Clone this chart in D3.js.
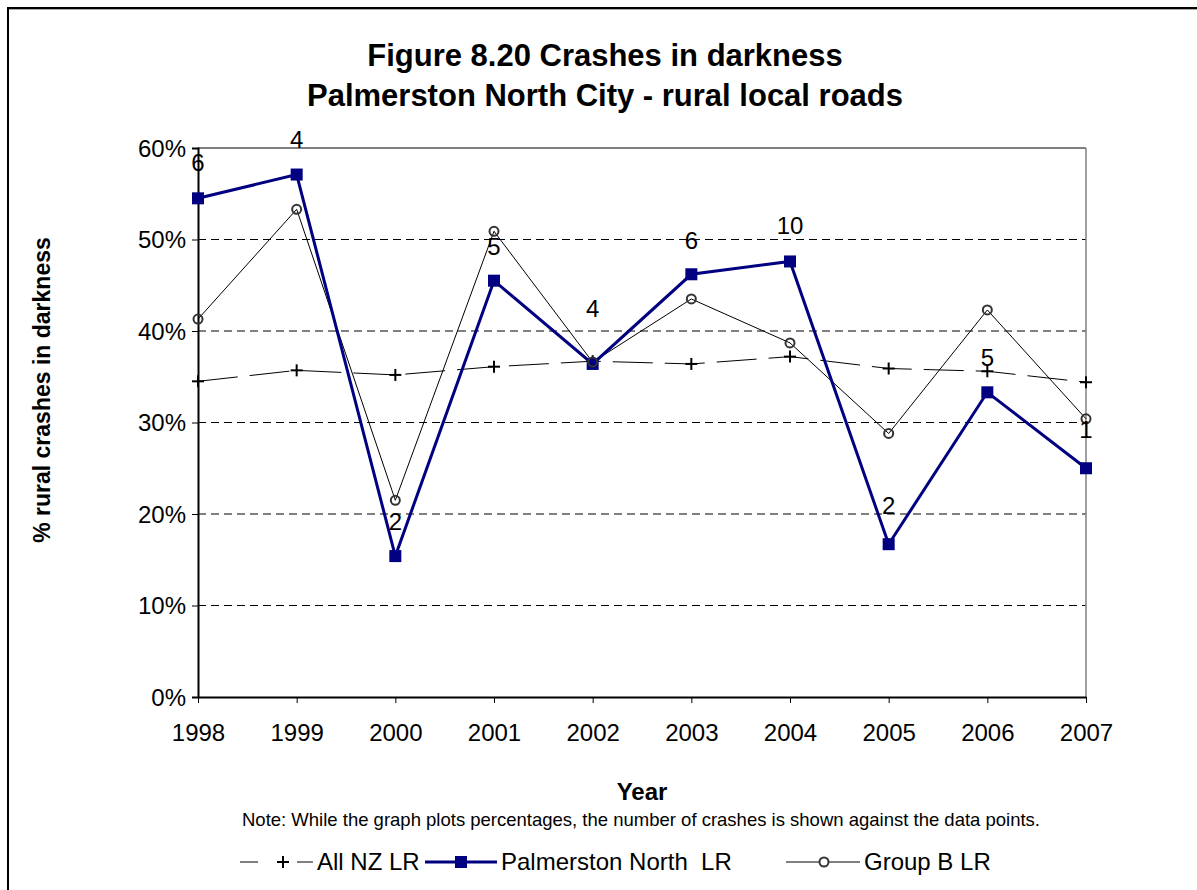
<!DOCTYPE html>
<html>
<head>
<meta charset="utf-8">
<script src="https://cdn.jsdelivr.net/npm/d3@7/dist/d3.min.js"></script>
<style>
  html, body { margin: 0; padding: 0; background: #fff; }
  svg { display: block; font-family: Arial, "Liberation Sans", sans-serif; }
</style>
</head>
<body>
<svg id="chart" width="1197" height="890"></svg>
<script>
// ---- data ----
const years = [1998, 1999, 2000, 2001, 2002, 2003, 2004, 2005, 2006, 2007];
const allNZ = [0.345, 0.357, 0.352, 0.361, 0.367, 0.364, 0.372, 0.359, 0.356, 0.344];
const palmerston = [0.545, 0.571, 0.154, 0.455, 0.364, 0.462, 0.476, 0.167, 0.333, 0.25];
const groupB = [0.413, 0.533, 0.215, 0.509, 0.366, 0.435, 0.387, 0.288, 0.423, 0.304];
const crashCounts = ["6", "4", "2", "5", "4", "6", "10", "2", "5", "1"];
const countLabelPct = [0.584, 0.609, 0.192, 0.492, 0.424, 0.499, 0.515, 0.209, 0.371, 0.292];
const yTicks = [0, 0.1, 0.2, 0.3, 0.4, 0.5, 0.6];
const titleLines = ["Figure 8.20 Crashes in darkness", "Palmerston North City - rural local roads"];
const seriesNames = ["All NZ LR", "Palmerston North  LR", "Group B LR"];

// ---- layout ----
const FONT = "Arial, 'Liberation Sans', sans-serif";
const svg = d3.select("#chart");
const L = 198, R = 1086, T = 148, B = 697;
const x = d3.scalePoint().domain(years).range([L, R]);
const y = d3.scaleLinear().domain([0, 0.6]).range([B, T]);

// outer frame
svg.append("line").attr("x1", 8).attr("y1", 8).attr("x2", 1197).attr("y2", 8)
  .attr("stroke", "#000").attr("stroke-width", 2);
svg.append("line").attr("x1", 9).attr("y1", 9.5).attr("x2", 1197).attr("y2", 9.5)
  .attr("stroke", "#aaa").attr("stroke-width", 1);
svg.append("line").attr("x1", 8).attr("y1", 7).attr("x2", 8).attr("y2", 890)
  .attr("stroke", "#000").attr("stroke-width", 2);

// title
svg.append("g").selectAll("text").data(titleLines).join("text")
  .attr("x", 605).attr("y", (d, i) => 66 + i * 40)
  .attr("text-anchor", "middle").attr("font-size", 31).attr("font-weight", "bold")
  .text(d => d);

// gridlines
svg.append("g").selectAll("line").data(yTicks.filter(t => t > 0 && t < 0.6)).join("line")
  .attr("x1", L).attr("x2", R).attr("y1", d => y(d)).attr("y2", d => y(d))
  .attr("stroke", "#000").attr("stroke-width", 1).attr("stroke-dasharray", "8,5");

// plot border top & right
svg.append("line").attr("x1", L).attr("x2", R).attr("y1", y(0.6)).attr("y2", y(0.6))
  .attr("stroke", "#000").attr("stroke-width", 1);
svg.append("line").attr("x1", R).attr("x2", R).attr("y1", T).attr("y2", B)
  .attr("stroke", "#808080").attr("stroke-width", 1.5);

// axes
const yAxis = svg.append("g").attr("transform", `translate(${L},0)`)
  .call(d3.axisLeft(y).tickValues(yTicks).tickFormat(d3.format(".0%")).tickSize(6).tickPadding(6));
yAxis.select(".domain").attr("stroke-width", 2);
yAxis.selectAll("text").attr("font-size", 24).attr("fill", "#000").attr("font-family", FONT).attr("dy", "0.35em");

const xAxis = svg.append("g").attr("transform", `translate(0,${B})`)
  .call(d3.axisBottom(x).tickSize(6).tickPadding(21).tickSizeOuter(0));
xAxis.select(".domain").attr("stroke-width", 2);
xAxis.selectAll("text").attr("font-size", 24).attr("fill", "#000").attr("font-family", FONT);

// axis titles
svg.append("text").attr("transform", "translate(50,390) rotate(-90)")
  .attr("text-anchor", "middle").attr("font-size", 23).attr("font-weight", "bold")
  .text("% rural crashes in darkness");
svg.append("text").attr("x", 642).attr("y", 800).attr("text-anchor", "middle")
  .attr("font-size", 24).attr("font-weight", "bold").text("Year");
svg.append("text").attr("x", 641).attr("y", 826).attr("text-anchor", "middle")
  .attr("font-size", 18.5).text("Note: While the graph plots percentages, the number of crashes is shown against the data points.");

// lines
const line = vals => d3.line().x((d, i) => x(years[i])).y(d => y(d))(vals);

svg.append("path").attr("d", line(allNZ)).attr("fill", "none")
  .attr("stroke", "#000").attr("stroke-width", 1).attr("stroke-dasharray", "40,12");
svg.append("path").attr("d", line(groupB)).attr("fill", "none")
  .attr("stroke", "#000").attr("stroke-width", 1);
svg.append("path").attr("d", line(palmerston)).attr("fill", "none")
  .attr("stroke", "#000080").attr("stroke-width", 3);

// markers
const plus = (g, cx, cy) => {
  g.append("line").attr("x1", cx - 6).attr("x2", cx + 6).attr("y1", cy).attr("y2", cy).attr("stroke", "#000").attr("stroke-width", 2);
  g.append("line").attr("x1", cx).attr("x2", cx).attr("y1", cy - 6).attr("y2", cy + 6).attr("stroke", "#000").attr("stroke-width", 2);
};
const gPlus = svg.append("g");
allNZ.forEach((v, i) => plus(gPlus, x(years[i]), y(v)));

svg.append("g").selectAll("rect").data(palmerston).join("rect")
  .attr("x", (d, i) => x(years[i]) - 6).attr("y", d => y(d) - 6)
  .attr("width", 12).attr("height", 12).attr("fill", "#000080");

svg.append("g").selectAll("circle").data(groupB).join("circle")
  .attr("cx", (d, i) => x(years[i])).attr("cy", d => y(d)).attr("r", 4.5)
  .attr("fill", "none").attr("stroke", "#333").attr("stroke-width", 2);

// count labels
svg.append("g").selectAll("text").data(crashCounts).join("text")
  .attr("x", (d, i) => x(years[i])).attr("y", (d, i) => y(countLabelPct[i]))
  .attr("dy", "0.35em").attr("text-anchor", "middle").attr("font-size", 24)
  .text(d => d);

// legend
const ly = 862;
const lg = svg.append("g");
lg.append("line").attr("x1", 240).attr("x2", 258).attr("y1", ly).attr("y2", ly).attr("stroke", "#000");
plus(lg, 283, ly);
lg.append("line").attr("x1", 297).attr("x2", 313).attr("y1", ly).attr("y2", ly).attr("stroke", "#000");
lg.append("text").attr("x", 317).attr("y", ly).attr("dy", "0.35em").attr("font-size", 24).text(seriesNames[0]);

lg.append("line").attr("x1", 425).attr("x2", 497).attr("y1", ly).attr("y2", ly)
  .attr("stroke", "#000080").attr("stroke-width", 3);
lg.append("rect").attr("x", 455).attr("y", ly - 6).attr("width", 12).attr("height", 12).attr("fill", "#000080");
lg.append("text").attr("x", 501).attr("y", ly).attr("dy", "0.35em").attr("font-size", 24)
  .attr("xml:space", "preserve").style("white-space", "pre").text(seriesNames[1]);

lg.append("line").attr("x1", 786).attr("x2", 860).attr("y1", ly).attr("y2", ly)
  .attr("stroke", "#000").attr("stroke-width", 1);
lg.append("circle").attr("cx", 824).attr("cy", ly).attr("r", 4.5).attr("fill", "#fff")
  .attr("stroke", "#333").attr("stroke-width", 2);
lg.append("text").attr("x", 864).attr("y", ly).attr("dy", "0.35em").attr("font-size", 24).text(seriesNames[2]);
</script>
</body>
</html>
